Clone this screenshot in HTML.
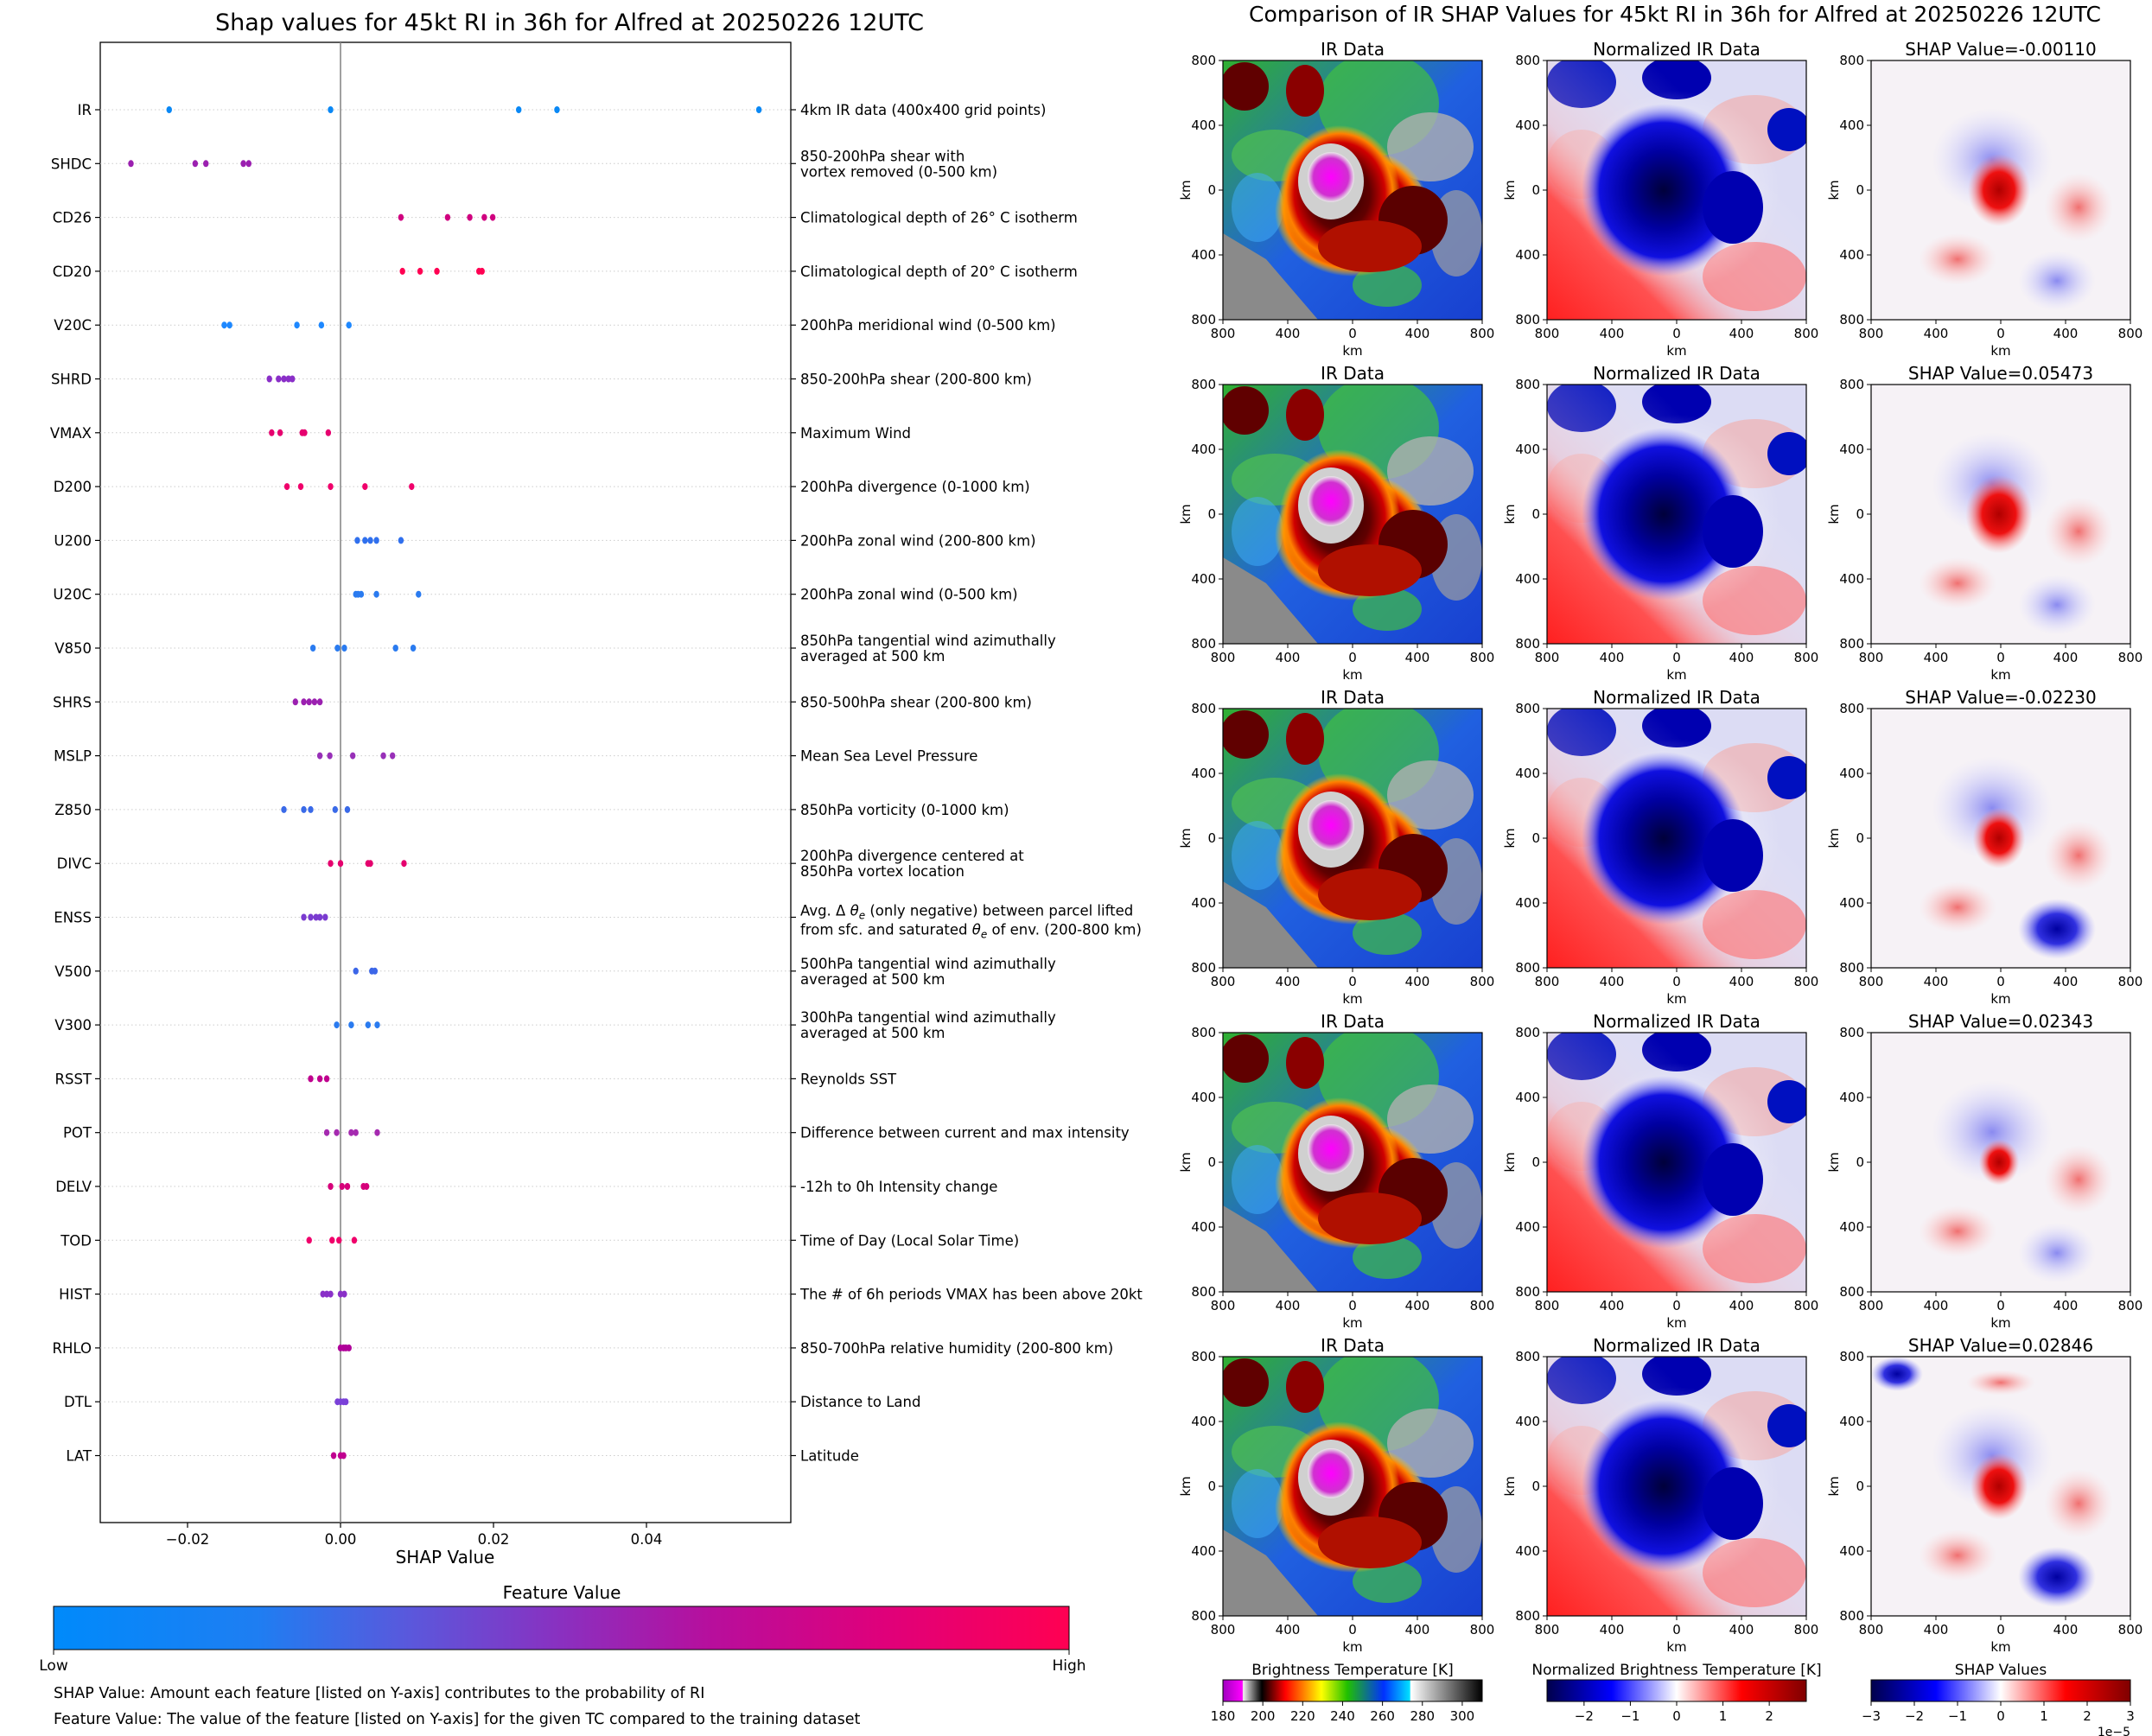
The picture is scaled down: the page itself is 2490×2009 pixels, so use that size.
<!DOCTYPE html>
<html><head><meta charset="utf-8">
<style>
html,body{margin:0;padding:0;background:#fff;}
svg{display:block;font-family:"DejaVu Sans","Liberation Sans",sans-serif;}
</style></head>
<body>
<svg id="root" width="2490" height="2009" viewBox="0 0 2490 2009" xmlns="http://www.w3.org/2000/svg">
<defs>
  <linearGradient id="fvgrad" x1="0" x2="1" y1="0" y2="0">
    <stop offset="0" stop-color="#008afb"/><stop offset="0.2" stop-color="#1e7ef2"/>
    <stop offset="0.35" stop-color="#5a58dc"/><stop offset="0.5" stop-color="#8a30c0"/>
    <stop offset="0.65" stop-color="#b80e9c"/><stop offset="0.82" stop-color="#e0007a"/>
    <stop offset="1" stop-color="#ff0052"/>
  </linearGradient>
  <linearGradient id="irgrad" x1="0" x2="1">
    <stop offset="0" stop-color="#a000c0"/><stop offset="0.075" stop-color="#ff00ff"/>
    <stop offset="0.078" stop-color="#f0f0f0"/><stop offset="0.15" stop-color="#000"/>
    <stop offset="0.24" stop-color="#ff0000"/><stop offset="0.38" stop-color="#ffff00"/>
    <stop offset="0.48" stop-color="#20c000"/><stop offset="0.62" stop-color="#0030ff"/>
    <stop offset="0.72" stop-color="#00e0ff"/><stop offset="0.725" stop-color="#ffffff"/>
    <stop offset="1" stop-color="#000"/>
  </linearGradient>
  <linearGradient id="seis" x1="0" x2="1">
    <stop offset="0" stop-color="#00004c"/><stop offset="0.25" stop-color="#0000ff"/>
    <stop offset="0.5" stop-color="#ffffff"/><stop offset="0.75" stop-color="#ff0000"/>
    <stop offset="1" stop-color="#7f0000"/>
  </linearGradient>
  <radialGradient id="eyeg"><stop offset="0" stop-color="#ff00ff"/><stop offset="0.75" stop-color="#d030d0"/><stop offset="1" stop-color="#e8e8e8"/></radialGradient>
  <radialGradient id="coreg"><stop offset="0" stop-color="#200000"/><stop offset="0.5" stop-color="#600000"/><stop offset="0.75" stop-color="#d00000"/><stop offset="0.88" stop-color="#ff8000"/><stop offset="1" stop-color="#ffd000" stop-opacity="0"/></radialGradient>
  <radialGradient id="blueg"><stop offset="0" stop-color="#00003a"/><stop offset="0.45" stop-color="#0000a0"/><stop offset="0.78" stop-color="#1010e0"/><stop offset="1" stop-color="#8080ff" stop-opacity="0"/></radialGradient>
  <radialGradient id="redblob"><stop offset="0" stop-color="#b00000"/><stop offset="0.5" stop-color="#ee1010"/><stop offset="1" stop-color="#ff9090" stop-opacity="0"/></radialGradient>
  <radialGradient id="pinkblob"><stop offset="0" stop-color="#f07070"/><stop offset="1" stop-color="#ffd0d0" stop-opacity="0"/></radialGradient>
  <radialGradient id="bluefaint"><stop offset="0" stop-color="#8a8af0"/><stop offset="1" stop-color="#d8d8ff" stop-opacity="0"/></radialGradient>
  <radialGradient id="bluedeep"><stop offset="0" stop-color="#0000a0"/><stop offset="0.5" stop-color="#3030e0"/><stop offset="1" stop-color="#a0a0ff" stop-opacity="0"/></radialGradient>
  <radialGradient id="whitefade"><stop offset="0" stop-color="#ffffff"/><stop offset="1" stop-color="#ffffff" stop-opacity="0"/></radialGradient>
  <linearGradient id="redcorner" x1="0" y1="1" x2="0.7" y2="0.3"><stop offset="0" stop-color="#ff2020"/><stop offset="0.35" stop-color="#ff5050"/><stop offset="0.55" stop-color="#ffb0b0" stop-opacity="0.3"/><stop offset="1" stop-color="#fff" stop-opacity="0"/></linearGradient>
  <linearGradient id="irbase" x1="0" y1="0" x2="1" y2="1"><stop offset="0" stop-color="#30b030"/><stop offset="0.5" stop-color="#2060e0"/><stop offset="1" stop-color="#1840d0"/></linearGradient>

  <symbol id="irpanel" viewBox="0 0 300 300">
    <rect width="300" height="300" fill="url(#irbase)"/>
    <ellipse cx="180" cy="50" rx="70" ry="60" fill="#40c040" opacity="0.7"/>
    <ellipse cx="240" cy="100" rx="50" ry="40" fill="#b0b0b0" opacity="0.8"/>
    <ellipse cx="200" cy="150" rx="30" ry="20" fill="#a0a0a0" opacity="0.6"/>
    <ellipse cx="60" cy="110" rx="50" ry="30" fill="#50c050" opacity="0.7"/>
    <ellipse cx="40" cy="170" rx="30" ry="40" fill="#40b0ff" opacity="0.5"/>
    <ellipse cx="270" cy="200" rx="30" ry="50" fill="#a0a0a0" opacity="0.7"/>
    <ellipse cx="190" cy="260" rx="40" ry="25" fill="#40c040" opacity="0.7"/>
    <polygon points="0,200 50,230 110,300 0,300" fill="#8a8a8a"/>
    <ellipse cx="25" cy="30" rx="28" ry="28" fill="#600000"/>
    <ellipse cx="95" cy="35" rx="22" ry="30" fill="#8a0000"/>
    <ellipse cx="150" cy="175" rx="90" ry="75" fill="url(#coreg)"/>
    <ellipse cx="135" cy="155" rx="70" ry="80" fill="url(#coreg)"/>
    <ellipse cx="220" cy="185" rx="40" ry="40" fill="#5a0000"/>
    <ellipse cx="170" cy="215" rx="60" ry="30" fill="#b01000"/>
    <ellipse cx="125" cy="140" rx="38" ry="44" fill="#d0d0d0"/>
    <ellipse cx="125" cy="135" rx="27" ry="29" fill="url(#eyeg)"/>
  </symbol>
  <symbol id="nrmpanel" viewBox="0 0 300 300">
    <rect width="300" height="300" fill="#dcdcf4"/>
    <ellipse cx="240" cy="80" rx="60" ry="40" fill="#f0b0b0" opacity="0.7"/>
    <ellipse cx="40" cy="120" rx="40" ry="40" fill="#f0b8b8" opacity="0.6"/>
    <ellipse cx="40" cy="25" rx="40" ry="30" fill="#0010c0"/>
    <ellipse cx="150" cy="20" rx="40" ry="25" fill="#0000b0"/>
    <ellipse cx="280" cy="80" rx="25" ry="25" fill="#0010c0"/>
    <rect width="300" height="300" fill="url(#redcorner)"/>
    <ellipse cx="240" cy="250" rx="60" ry="40" fill="#ff7070" opacity="0.6"/>
    <ellipse cx="150" cy="150" rx="120" ry="115" fill="url(#whitefade)" opacity="0.7"/>
    <ellipse cx="135" cy="150" rx="95" ry="100" fill="url(#blueg)"/>
    <ellipse cx="215" cy="170" rx="35" ry="42" fill="#0000b0"/>
  </symbol>
</defs>
</svg>
<script>
const NS='http://www.w3.org/2000/svg';
const root=document.getElementById('root');
function mk(tag,attrs,parent){const e=document.createElementNS(NS,tag);for(const k in attrs)e.setAttribute(k,attrs[k]);(parent||root).appendChild(e);return e;}
function txt(x,y,s,size,anchor,parent,extra){const t=mk('text',Object.assign({x:x,y:y,'font-size':size,'text-anchor':anchor||'start',fill:'#000'},extra||{}),parent);t.textContent=s;return t;}

// ---------- Left chart data ----------
const features=['IR','SHDC','CD26','CD20','V20C','SHRD','VMAX','D200','U200','U20C','V850','SHRS','MSLP','Z850','DIVC','ENSS','V500','V300','RSST','POT','DELV','TOD','HIST','RHLO','DTL','LAT'];
const descriptions=[['4km IR data (400x400 grid points)'],['850-200hPa shear with','vortex removed (0-500 km)'],['Climatological depth of 26° C isotherm'],['Climatological depth of 20° C isotherm'],['200hPa meridional wind (0-500 km)'],['850-200hPa shear (200-800 km)'],['Maximum Wind'],['200hPa divergence (0-1000 km)'],['200hPa zonal wind (200-800 km)'],['200hPa zonal wind (0-500 km)'],['850hPa tangential wind azimuthally','averaged at 500 km'],['850-500hPa shear (200-800 km)'],['Mean Sea Level Pressure'],['850hPa vorticity (0-1000 km)'],['200hPa divergence centered at','850hPa vortex location'],['ENSS'],['500hPa tangential wind azimuthally','averaged at 500 km'],['300hPa tangential wind azimuthally','averaged at 500 km'],['Reynolds SST'],['Difference between current and max intensity'],['-12h to 0h Intensity change'],['Time of Day (Local Solar Time)'],['The # of 6h periods VMAX has been above 20kt'],['850-700hPa relative humidity (200-800 km)'],['Distance to Land'],['Latitude']];
const shapValues=[
[-0.0224,-0.0013,0.0233,0.0283,0.0547],
[-0.0274,-0.019,-0.0176,-0.0127,-0.012],
[0.0079,0.014,0.0169,0.0188,0.0199],
[0.0081,0.0104,0.0126,0.0181,0.0185],
[-0.0152,-0.0145,-0.0057,-0.0025,0.0011],
[-0.0093,-0.0081,-0.0074,-0.0068,-0.0063],
[-0.009,-0.0079,-0.005,-0.0047,-0.0016],
[-0.007,-0.0052,-0.0013,0.0032,0.0093],
[0.0022,0.0032,0.0039,0.0047,0.0079],
[0.002,0.0023,0.0027,0.0047,0.0102],
[-0.0036,-0.0004,0.0005,0.0072,0.0095],
[-0.0059,-0.0048,-0.0041,-0.0034,-0.0027],
[-0.0027,-0.0014,0.0016,0.0056,0.0068],
[-0.0074,-0.0048,-0.0039,-0.0007,0.0009],
[-0.0013,0.0,0.0036,0.0039,0.0083],
[-0.0048,-0.0039,-0.0032,-0.0027,-0.002],
[0.002,0.0041,0.0045],
[-0.0005,0.0014,0.0036,0.0048],
[-0.0039,-0.0027,-0.0018],
[-0.0018,-0.0005,0.0014,0.002,0.0048],
[-0.0013,0.0002,0.0009,0.003,0.0034],
[-0.0041,-0.0011,-0.0002,0.0018],
[-0.0023,-0.0018,-0.0013,0.0,0.0005],
[0.0,0.0004,0.0007,0.0011],
[-0.0004,0.0,0.0004,0.0007],
[-0.0009,0.0,0.0004]];
const featureColors=['#0a88f5','#9b20b0','#d0007f','#ff0052','#1e88ff','#8a2fc8','#e6006f','#f0006b','#3070ee','#2a7bf0','#2a7bf0','#9b20b0','#9830b8','#3a6ae8','#e5006e','#7a3bd0','#3c66e8','#2a7bf0','#c0008e','#a52ab0','#d6007a','#f0006b','#8a30c8','#b0009a','#7a40d8','#c00090'];
const xTicks=[-0.02,0.0,0.02,0.04];
const xTickLabels=['\u22120.02','0.00','0.02','0.04'];

const AX={l:116,r:915,t:49,b:1762};
const X0=394, PXU=8850;
function xs(v){return X0+v*PXU;}
function ys(i){return 127+62.3*i;}

const title=txt(659,35,'Shap values for 45kt RI in 36h for Alfred at 20250226 12UTC',27,'middle');



const plot=mk('g',{});


const frame=mk('rect',{x:AX.l,y:AX.t,width:AX.r-AX.l,height:AX.b-AX.t,fill:'none',stroke:'#000','stroke-width':1.3},plot);


const zl=mk('line',{x1:xs(0),x2:xs(0),y1:AX.t,y2:AX.b,stroke:'#888','stroke-width':1.6},plot);



features.forEach((f,i)=>{
  const y=ys(i);
  const g=mk('line',{x1:AX.l,x2:AX.r,y1:y,y2:y,stroke:'#ccc','stroke-width':1,'stroke-dasharray':'1.5,3'},plot);
  
  
  mk('line',{x1:AX.l-6,x2:AX.l,y1:y,y2:y,stroke:'#000','stroke-width':1.2},plot);
  mk('line',{x1:AX.r,x2:AX.r+6,y1:y,y2:y,stroke:'#000','stroke-width':1.2},plot);
  const lab=txt(AX.l-10,y+6,f,16.5,'end',plot);
  
  
  let d=descriptions[i];
  const dg=mk('g',{},plot);
  
  
  if(f==='ENSS'){
    const t1=txt(926,y-2,'',16.5,'start',dg);
    t1.innerHTML='Avg. \u0394 <tspan font-style="italic">θ</tspan><tspan font-size="12" dy="4" font-style="italic">e</tspan><tspan dy="-4"> (only negative) between parcel lifted</tspan>';
    const t2=txt(926,y+20,'',16.5,'start',dg);
    t2.innerHTML='from sfc. and saturated <tspan font-style="italic">θ</tspan><tspan font-size="12" dy="4" font-style="italic">e</tspan><tspan dy="-4"> of env. (200-800 km)</tspan>';
  } else if(d.length===1){ txt(926,y+6,d[0],16.5,'start',dg); }
  else { txt(926,y-3,d[0],16.5,'start',dg); txt(926,y+15,d[1],16.5,'start',dg); }
  shapValues[i].forEach(v=>{
    const c=mk('ellipse',{cx:xs(v),cy:y,rx:3.2,ry:4,fill:featureColors[i]},plot);
    
    
  });
});
xTicks.forEach((t,k)=>{
  mk('line',{x1:xs(t),x2:xs(t),y1:AX.b,y2:AX.b+6,stroke:'#000','stroke-width':1.2},plot);
  const tl=txt(xs(t),AX.b+25,xTickLabels[k],16.5,'middle',plot);
  
  
});
const xl=txt(515,1809,'SHAP Value',20,'middle');



// feature value colorbar
const cbt=txt(650,1850,'Feature Value',20,'middle');


const cb=mk('rect',{x:62,y:1859,width:1175,height:50,fill:'url(#fvgrad)',stroke:'#000','stroke-width':1});


mk('line',{x1:62,x2:62,y1:1909,y2:1915,stroke:'#000'});
mk('line',{x1:1237,x2:1237,y1:1909,y2:1915,stroke:'#000'});
const lo=txt(62,1933,'Low',17,'middle');  
const hi=txt(1237,1933,'High',17,'middle');  
const n1=txt(62,1965,'SHAP Value: Amount each feature [listed on Y-axis] contributes to the probability of RI',17.5,'start');
 
const n2=txt(62,1995,'Feature Value: The value of the feature [listed on Y-axis] for the given TC compared to the training dataset',17.5,'start');
 

// ---------- Right panels ----------
const rt=txt(1938,25,'Comparison of IR SHAP Values for 45kt RI in 36h for Alfred at 20250226 12UTC',25,'middle');
 
const colX=[1415,1790,2165];
const rowY=[70,445,820,1195,1570];
const shapRowValues=['-0.00110','0.05473','-0.02230','0.02343','0.02846'];
const redStrength=[1,1.1,0.8,0.55,0.9];
const kmLabels=['800','400','0','400','800'];
const W=300;
rowY.forEach((y0,r)=>{
  colX.forEach((x0,c)=>{
    const g=mk('g',{});
    
    
    const ttl=c===0?'IR Data':c===1?'Normalized IR Data':'SHAP Value='+shapRowValues[r];
    txt(x0+W/2,y0-6,ttl,20,'middle',g);
    if(c===0) mk('use',{href:'#irpanel',x:x0,y:y0,width:W,height:W},g);
    else if(c===1) mk('use',{href:'#nrmpanel',x:x0,y:y0,width:W,height:W},g);
    else {
      mk('rect',{x:x0,y:y0,width:W,height:W,fill:'#f6f2f6'},g);
      mk('ellipse',{cx:x0+140,cy:y0+115,rx:70,ry:60,fill:'url(#bluefaint)'},g);
      mk('ellipse',{cx:x0+100,cy:y0+230,rx:45,ry:30,fill:'url(#pinkblob)'},g);
      mk('ellipse',{cx:x0+240,cy:y0+170,rx:40,ry:40,fill:'url(#pinkblob)'},g);
      mk('ellipse',{cx:x0+215,cy:y0+255,rx:45,ry:35,fill:r==2||r==4?'url(#bluedeep)':'url(#bluefaint)'},g);
      if(r==4){mk('ellipse',{cx:x0+30,cy:y0+20,rx:30,ry:20,fill:'url(#bluedeep)'},g);mk('ellipse',{cx:x0+150,cy:y0+30,rx:40,ry:15,fill:'url(#pinkblob)'},g);}
      mk('ellipse',{cx:x0+148,cy:y0+150,rx:28*redStrength[r]+8,ry:34*redStrength[r]+8,fill:'url(#redblob)'},g);
    }
    mk('rect',{x:x0,y:y0,width:W,height:W,fill:'none',stroke:'#000','stroke-width':1.2},g);
    kmLabels.forEach((k,i)=>{
      const p=i*W/4;
      mk('line',{x1:x0+p,x2:x0+p,y1:y0+W,y2:y0+W+5,stroke:'#000'},g);
      txt(x0+p,y0+W+21,k,15,'middle',g);
      mk('line',{x1:x0-5,x2:x0,y1:y0+p,y2:y0+p,stroke:'#000'},g);
      txt(x0-8,y0+p+5,k,15,'end',g);
    });
    txt(x0+W/2,y0+W+41,'km',15,'middle',g);
    txt(x0-38,y0+W/2,'km',15,'middle',g,{transform:`rotate(-90 ${x0-38} ${y0+W/2})`});
  });
});

// bottom colorbars
const cbTitles=['Brightness Temperature [K]','Normalized Brightness Temperature [K]','SHAP Values'];
const cbFills=['url(#irgrad)','url(#seis)','url(#seis)'];
const irTicks=[180,200,220,240,260,280,300];
const nrmTicks=[-2,-1,0,1,2];
const shTicks=[-3,-2,-1,0,1,2,3];
const cbRanges=[[180,310],[-2.8,2.8],[-3,3]];
[irTicks,nrmTicks,shTicks].forEach((ticks,c)=>{
  const x0=colX[c];
  const g=mk('g',{});
  
  
  txt(x0+W/2,1938,cbTitles[c],17,'middle',g);
  mk('rect',{x:x0,y:1944,width:W,height:25,fill:cbFills[c],stroke:'#000','stroke-width':1},g);
  const [a,b]=cbRanges[c];
  ticks.forEach(t=>{
    const px=x0+(t-a)/(b-a)*W;
    mk('line',{x1:px,x2:px,y1:1969,y2:1974,stroke:'#000'},g);
    txt(px,1991,String(t).replace('-','\u2212'),15,'middle',g);
  });
});
const ex=txt(2465,2009,'1e\u22125',14,'end');
 
</script>
</body></html>
